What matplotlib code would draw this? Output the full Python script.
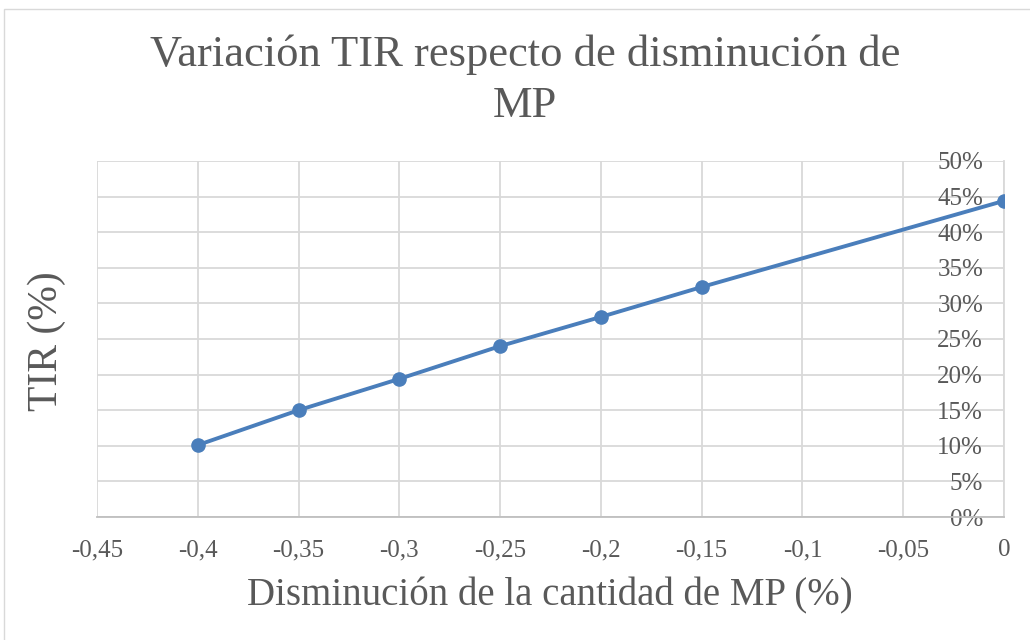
import matplotlib
matplotlib.use('Agg')
import matplotlib.pyplot as plt
from matplotlib.patches import Rectangle
from matplotlib.ticker import FuncFormatter, MultipleLocator

# data
disminucion = [-0.40, -0.35, -0.30, -0.25, -0.20, -0.15, 0.0]
tir = [0.101, 0.150, 0.194, 0.240, 0.281, 0.323, 0.444]

gris = '#595959'
plt.rcParams['font.family'] = ['Liberation Serif', 'DejaVu Serif']

fig = plt.figure(figsize=(10.3, 6.4), dpi=100)
ax = fig.add_axes([97 / 1030, 123 / 640, 907 / 1030, 356 / 640])

# light chart border like Excel
fig.patches.append(Rectangle((4 / 1030, -0.1), 1.2, (640 - 9) / 640 + 0.1,
                             transform=fig.transFigure, fill=False,
                             edgecolor='#d9d9d9', linewidth=1))

ax.plot(disminucion, tir, color='#4a7ebb', linewidth=2.8,
        marker='o', markersize=9.5, zorder=3)

ax.set_xlim(-0.45, 0)
ax.set_ylim(0, 0.5)
ax.xaxis.set_major_locator(MultipleLocator(0.05))
ax.yaxis.set_major_locator(MultipleLocator(0.05))
ax.xaxis.set_major_formatter(FuncFormatter(
    lambda v, p: '0' if abs(v) < 1e-9 else ('%g' % round(v, 2)).replace('.', ',')))
ax.yaxis.set_major_formatter(FuncFormatter(lambda v, p: '%d%%' % round(v * 100)))

ax.grid(True, color='#d9d9d9', linewidth=1.3)
ax.set_axisbelow(True)

for s in ['top', 'right']:
    ax.spines[s].set_visible(False)
ax.spines['left'].set_position(('data', 0))
ax.spines['left'].set_color('#d9d9d9')
ax.spines['left'].set_linewidth(1.3)
ax.spines['bottom'].set_color('#bfbfbf')
ax.spines['bottom'].set_linewidth(1.3)

ax.tick_params(axis='both', length=0, labelsize=18, labelcolor=gris)
ax.tick_params(axis='x', pad=16)
ax.tick_params(axis='y', pad=15)

fig.text(525 / 1030, 1 - 80 / 640, 'Variación TIR respecto de disminución de\nMP',
         ha='center', va='center', fontsize=32, color=gris, linespacing=1.35)
fig.text(47 / 1030, 1 - 341 / 640, 'TIR (%)', rotation=90,
         ha='center', va='center', fontsize=30, color=gris)
fig.text(550 / 1030, 1 - 596 / 640, 'Disminución de la cantidad de MP (%)',
         ha='center', va='center', fontsize=28, color=gris)

fig.savefig('out.png', dpi=100)
